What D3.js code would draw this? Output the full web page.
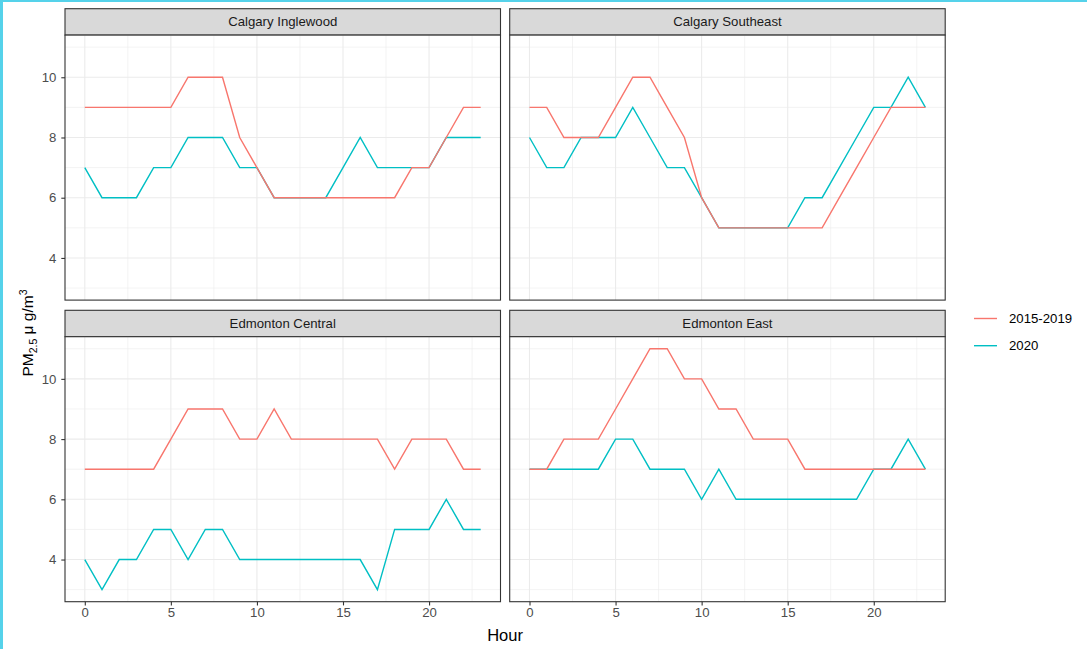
<!DOCTYPE html>
<html>
<head>
<meta charset="utf-8">
<script src="https://cdnjs.cloudflare.com/ajax/libs/d3/7.8.5/d3.min.js"></script>
<style>
  html, body { margin: 0; padding: 0; background: #fff; }
  svg { display: block; font-family: "Liberation Sans", Arial, sans-serif; }
</style>
</head>
<body>
<div id="chart"></div>
<script>
// hours on the x axis
const hours = [0, 1, 2, 3, 4, 5, 6, 7, 8, 9, 10, 11, 12, 13, 14, 15, 16, 17, 18, 19, 20, 21, 22, 23];
const sites = ["Calgary Inglewood", "Calgary Southeast", "Edmonton Central", "Edmonton East"];
const seriesNames = ["2015-2019", "2020"];
const xTicks = [0, 5, 10, 15, 20];
const yTicks = [4, 6, 8, 10];

// PM2.5 by hour, one array per site and period
const inglewood1519 = [9, 9, 9, 9, 9, 9, 10, 10, 10, 8, 7, 6, 6, 6, 6, 6, 6, 6, 6, 7, 7, 8, 9, 9];
const inglewood2020 = [7, 6, 6, 6, 7, 7, 8, 8, 8, 7, 7, 6, 6, 6, 6, 7, 8, 7, 7, 7, 7, 8, 8, 8];
const southeast1519 = [9, 9, 8, 8, 8, 9, 10, 10, 9, 8, 6, 5, 5, 5, 5, 5, 5, 5, 6, 7, 8, 9, 9, 9];
const southeast2020 = [8, 7, 7, 8, 8, 8, 9, 8, 7, 7, 6, 5, 5, 5, 5, 5, 6, 6, 7, 8, 9, 9, 10, 9];
const central1519 = [7, 7, 7, 7, 7, 8, 9, 9, 9, 8, 8, 9, 8, 8, 8, 8, 8, 8, 7, 8, 8, 8, 7, 7];
const central2020 = [4, 3, 4, 4, 5, 5, 4, 5, 5, 4, 4, 4, 4, 4, 4, 4, 4, 3, 5, 5, 5, 6, 5, 5];
const east1519 = [7, 7, 8, 8, 8, 9, 10, 11, 11, 10, 10, 9, 9, 8, 8, 8, 7, 7, 7, 7, 7, 7, 7, 7];
const east2020 = [7, 7, 7, 7, 7, 8, 8, 7, 7, 7, 6, 7, 6, 6, 6, 6, 6, 6, 6, 6, 7, 7, 8, 7];

const siteSeries = {
    "Calgary Inglewood": [inglewood1519, inglewood2020],
    "Calgary Southeast": [southeast1519, southeast2020],
    "Edmonton Central": [central1519, central2020],
    "Edmonton East": [east1519, east2020]
};

const colorScale = d3.scaleOrdinal().domain(seriesNames).range(["#F8766D", "#00BFC4"]);

const W = 1087, H = 649;
const colX = [65, 509.7];
const panelW = 435.5;
const rowStripTop = [8.7, 310.3];
const stripH = 26.4;
const panelH = 265;
const smallFont = 13.2;
const titleFont = 16.5;

const svg = d3.select("#chart").append("svg")
    .attr("width", W)
    .attr("height", H);

// frame accents at the left and top edges of the picture
svg.append("rect").attr("x", 0).attr("y", 0).attr("width", 3).attr("height", H).attr("fill", "#55d2ea");
svg.append("rect").attr("x", 0).attr("y", 0).attr("width", W).attr("height", 2).attr("fill", "#55d2ea");

// shared scales (fixed facets)
const x = d3.scaleLinear().domain([-1.15, 24.15]).range([0, panelW]);
const y = d3.scaleLinear().domain([2.6, 11.4]).range([panelH, 0]);

const minorX = [2.5, 7.5, 12.5, 17.5, 22.5];
const minorY = [3, 5, 7, 9, 11];

const line = d3.line()
    .x((d, i) => x(hours[i]))
    .y(d => y(d));

sites.forEach((site, idx) => {
    const col = idx % 2, row = Math.floor(idx / 2);
    const left = colX[col];
    const stripTop = rowStripTop[row];
    const top = stripTop + stripH;

    // strip
    svg.append("rect")
        .attr("x", left).attr("y", stripTop)
        .attr("width", panelW).attr("height", stripH)
        .attr("fill", "#d9d9d9")
        .attr("stroke", "#333333").attr("stroke-width", 1.1);
    svg.append("text")
        .attr("x", left + panelW / 2).attr("y", stripTop + stripH / 2)
        .attr("text-anchor", "middle").attr("dominant-baseline", "central")
        .attr("font-size", smallFont).attr("fill", "#1a1a1a")
        .text(site);

    const g = svg.append("g").attr("transform", `translate(${left},${top})`);

    g.append("rect").attr("width", panelW).attr("height", panelH).attr("fill", "#fff");

    // minor grid
    g.selectAll(".minor-x").data(minorX).enter().append("line")
        .attr("x1", d => x(d)).attr("x2", d => x(d))
        .attr("y1", 0).attr("y2", panelH)
        .attr("stroke", "#ebebeb").attr("stroke-width", 0.6);
    g.selectAll(".minor-y").data(minorY).enter().append("line")
        .attr("x1", 0).attr("x2", panelW)
        .attr("y1", d => y(d)).attr("y2", d => y(d))
        .attr("stroke", "#ebebeb").attr("stroke-width", 0.6);

    // major grid
    g.selectAll(".major-x").data(xTicks).enter().append("line")
        .attr("x1", d => x(d)).attr("x2", d => x(d))
        .attr("y1", 0).attr("y2", panelH)
        .attr("stroke", "#ebebeb").attr("stroke-width", 1.1);
    g.selectAll(".major-y").data(yTicks).enter().append("line")
        .attr("x1", 0).attr("x2", panelW)
        .attr("y1", d => y(d)).attr("y2", d => y(d))
        .attr("stroke", "#ebebeb").attr("stroke-width", 1.1);

    // lines: 2020 first so the 2015-2019 line sits on top where they overlap
    const values = siteSeries[site];
    [1, 0].forEach(k => {
        g.append("path")
            .datum(values[k])
            .attr("fill", "none")
            .attr("stroke", colorScale(seriesNames[k]))
            .attr("stroke-width", 1.4)
            .attr("d", line);
    });

    // panel border
    g.append("rect").attr("width", panelW).attr("height", panelH)
        .attr("fill", "none").attr("stroke", "#333333").attr("stroke-width", 1.1);

    // y axis on left column
    if (col === 0) {
        const ya = g.append("g")
            .call(d3.axisLeft(y).tickValues(yTicks).tickSize(3.7).tickPadding(5));
        ya.select(".domain").remove();
        ya.selectAll(".tick line").attr("stroke", "#333333").attr("stroke-width", 1.1);
        ya.selectAll(".tick text").attr("font-size", smallFont).attr("fill", "#4d4d4d")
            .attr("font-family", "Liberation Sans, Arial, sans-serif");
    }
    // x axis on bottom row
    if (row === 1) {
        const xa = g.append("g")
            .attr("transform", `translate(0,${panelH})`)
            .call(d3.axisBottom(x).tickValues(xTicks).tickSize(3.7).tickPadding(2.5));
        xa.select(".domain").remove();
        xa.selectAll(".tick line").attr("stroke", "#333333").attr("stroke-width", 1.1);
        xa.selectAll(".tick text").attr("font-size", smallFont).attr("fill", "#4d4d4d")
            .attr("font-family", "Liberation Sans, Arial, sans-serif");
    }
});

// x axis title
svg.append("text")
    .attr("x", (colX[0] + colX[1] + panelW) / 2).attr("y", 641)
    .attr("text-anchor", "middle")
    .attr("font-size", titleFont).attr("fill", "#000")
    .text("Hour");

// y axis title
const yt = svg.append("text")
    .attr("transform", "translate(33,333) rotate(-90)")
    .attr("text-anchor", "middle")
    .attr("font-size", 15.5).attr("fill", "#000");
yt.append("tspan").text("PM");
yt.append("tspan").attr("font-size", 10.5).attr("dy", 4).text("2.5");
yt.append("tspan").attr("dy", -4).text(" \u03bc g/m");
yt.append("tspan").attr("font-size", 10.5).attr("dy", -6).text("3");

// legend
const legend = svg.append("g").attr("transform", "translate(974,318.5)");
seriesNames.forEach((name, i) => {
    const item = legend.append("g").attr("transform", `translate(0,${i * 27.2})`);
    item.append("line")
        .attr("x1", 0).attr("x2", 23).attr("y1", 0).attr("y2", 0)
        .attr("stroke", colorScale(name)).attr("stroke-width", 1.4);
    item.append("text")
        .attr("x", 35).attr("y", 0)
        .attr("dominant-baseline", "central")
        .attr("font-size", smallFont).attr("fill", "#000")
        .text(name);
});
</script>
</body>
</html>
